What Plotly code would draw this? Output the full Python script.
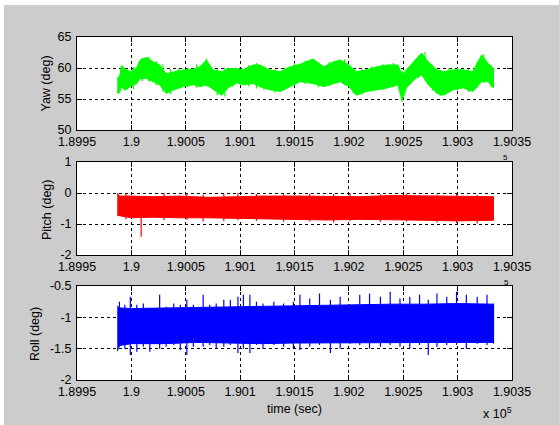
import plotly.graph_objects as go

W, H = 559, 425

# ---------------- data (time in seconds) ----------------
x_tickvals = [189950, 190000, 190050, 190100, 190150, 190200, 190250, 190300, 190350]
x_ticktext = ["1.8995", "1.9", "1.9005", "1.901", "1.9015", "1.902", "1.9025", "1.903", "1.9035"]

yaw_ticks = [50, 55, 60, 65]
pitch_ticks = [-2, -1, 0, 1]
roll_ticks = [-2, -1.5, -1, -0.5]
roll_ticktext = ["-2", "-1.5", "-1", "-0.5"]

# Yaw: upper / lower envelope of the dense signal
yaw_t = [189987, 189989, 189991, 189994, 189999, 190005, 190008, 190014, 190020, 190026,
         190032, 190039, 190048, 190057, 190063, 190069, 190075, 190083, 190089, 190097,
         190103, 190112, 190118, 190127, 190137, 190146, 190155, 190167, 190177, 190186,
         190192, 190200, 190207, 190216, 190226, 190236, 190245, 190249, 190253, 190261,
         190267, 190273, 190281, 190287, 190296, 190305, 190314, 190322, 190328, 190333]
yaw_hi = [58.5, 58.5, 60.4, 59.9, 59.4, 60.1, 61.3, 61.7, 61.0, 60.5,
          59.1, 59.4, 59.7, 59.8, 60.2, 61.3, 59.7, 59.4, 59.9, 59.9,
          59.7, 60.5, 60.5, 59.7, 59.4, 60.2, 60.6, 61.45, 60.2, 61.0,
          61.3, 60.5, 59.4, 59.7, 60.2, 60.5, 60.5, 59.0, 59.7, 61.3,
          62.4, 61.0, 59.7, 59.4, 59.7, 59.7, 59.4, 62.1, 60.75, 59.9]
yaw_lo = [55.9, 56.0, 57.0, 56.4, 57.0, 57.5, 58.3, 58.3, 57.8, 57.3,
          55.9, 56.5, 57.0, 57.3, 57.0, 57.3, 56.5, 55.6, 56.8, 57.6,
          57.3, 57.5, 57.0, 56.5, 56.2, 57.0, 57.8, 57.5, 57.0, 57.5,
          57.8, 57.0, 55.6, 56.2, 56.5, 56.8, 57.3, 54.7, 56.8, 58.3,
          58.9, 57.3, 55.9, 55.6, 56.5, 56.8, 56.2, 57.8, 57.8, 56.8]
# Yaw: individual extreme samples (ragged edge)
yaw_spk_t = [190002, 190010, 190016, 190023, 190029, 190036, 190043, 190052, 190060, 190069,
             190079, 190086, 190093, 190108, 190115, 190122, 190132, 190141, 190150, 190160,
             190172, 190182, 190196, 190204, 190212, 190221, 190231, 190241, 190249, 190257,
             190264, 190270, 190277, 190284, 190292, 190300, 190310, 190318, 190324, 190331]
yaw_spk_hi = [60.2, 61.6, 61.8, 61.1, 60.6, 59.8, 59.9, 60.0, 60.6, 61.5,
              59.8, 60.1, 60.0, 60.5, 60.8, 60.2, 59.8, 60.1, 60.8, 61.2,
              60.8, 61.0, 61.4, 60.0, 59.8, 60.3, 60.6, 60.8, 59.5, 60.5,
              62.0, 62.6, 60.4, 59.7, 60.0, 60.0, 59.8, 61.0, 62.2, 60.4]
yaw_spk_lo = [56.6, 57.9, 57.8, 57.2, 56.2, 55.8, 56.6, 56.9, 56.8, 57.0,
              55.6, 55.4, 57.0, 57.0, 56.7, 56.4, 56.0, 56.5, 57.2, 57.4,
              56.9, 57.1, 57.2, 55.9, 55.7, 56.2, 56.4, 56.9, 54.6, 57.4,
              58.4, 58.5, 56.4, 55.5, 56.2, 56.4, 56.1, 56.8, 57.6, 56.9]

# Pitch: dense core band + individual extreme samples
pitch_t = [189987, 189989, 190000, 190020, 190045, 190070, 190098, 190120, 190155, 190180,
           190210, 190240, 190270, 190300, 190333]
pitch_hi = [0.0, -0.1, -0.1, -0.12, -0.1, -0.14, -0.12, -0.1, -0.1, -0.1,
            -0.12, -0.08, -0.1, -0.12, -0.12]
pitch_lo = [-0.72, -0.75, -0.8, -0.78, -0.8, -0.8, -0.82, -0.82, -0.85, -0.87,
            -0.85, -0.87, -0.88, -0.9, -0.88]
pitch_spk_t = [189995, 190009, 190030, 190051, 190066, 190085, 190098, 190115, 190140,
               190164, 190186, 190201, 190229, 190253, 190281, 190299, 190318]
pitch_spk_hi = [-0.02, -0.3, 0.0, -0.02, -0.05, -0.03, 0.0, -0.03, -0.04,
                -0.02, -0.03, 0.0, -0.04, -0.02, -0.05, -0.03, -0.06]
pitch_spk_lo = [-0.85, -1.41, -0.88, -0.86, -0.92, -0.9, -0.88, -0.9, -0.93,
                -0.92, -0.95, -0.9, -0.93, -0.92, -0.95, -0.97, -0.98]

# Roll: dense core band + individual extreme samples
roll_t = [189987, 189989, 190000, 190030, 190060, 190090, 190120, 190150, 190180, 190210,
          190240, 190270, 190300, 190333]
roll_hi = [-0.82, -0.85, -0.86, -0.85, -0.85, -0.84, -0.83, -0.82, -0.8, -0.8,
           -0.79, -0.79, -0.78, -0.79]
roll_lo = [-1.54, -1.45, -1.42, -1.42, -1.4, -1.41, -1.42, -1.41, -1.4, -1.4,
           -1.4, -1.4, -1.4, -1.4]
roll_spk_t = [189989, 189994, 189999, 190005, 190011, 190017, 190026, 190032, 190039, 190045,
              190051, 190057, 190066, 190072, 190078, 190085, 190091, 190098, 190103, 190109,
              190115, 190121, 190131, 190140, 190149, 190155, 190164, 190173, 190183, 190192,
              190201, 190210, 190219, 190229, 190238, 190247, 190256, 190265, 190273, 190281,
              190290, 190299, 190308, 190318, 190327, 190333]
roll_spk_hi = [-0.75, -0.80, -0.67, -0.80, -0.78, -0.86, -0.64, -0.83, -0.78, -0.80,
               -0.72, -0.80, -0.64, -0.80, -0.78, -0.72, -0.72, -0.67, -0.64, -0.64,
               -0.75, -0.78, -0.75, -0.78, -0.75, -0.64, -0.70, -0.62, -0.72, -0.67,
               -0.80, -0.64, -0.62, -0.67, -0.59, -0.70, -0.67, -0.64, -0.72, -0.62,
               -0.67, -0.59, -0.64, -0.67, -0.64, -0.78]
roll_spk_lo = [-1.47, -1.50, -1.60, -1.55, -1.47, -1.55, -1.50, -1.47, -1.44, -1.52,
               -1.60, -1.47, -1.47, -1.44, -1.50, -1.47, -1.44, -1.57, -1.50, -1.57,
               -1.44, -1.50, -1.44, -1.47, -1.50, -1.52, -1.47, -1.44, -1.57, -1.50,
               -1.42, -1.44, -1.50, -1.47, -1.44, -1.47, -1.50, -1.44, -1.60, -1.47,
               -1.44, -1.44, -1.50, -1.42, -1.44, -1.42]

GREEN, RED, BLUE = "#00ff00", "#ff0000", "#0000ff"
FONT = "Liberation Sans, Arial, sans-serif"
FS = 12.5


def band(t, hi, lo, color, xa, ya):
    return go.Scatter(x=list(t) + list(t)[::-1], y=list(hi) + list(lo)[::-1],
                      fill="toself", fillcolor=color, mode="lines",
                      line=dict(color=color, width=1), xaxis=xa, yaxis=ya,
                      hoverinfo="skip", showlegend=False)


def spikes(t, hi, lo, color, xa, ya):
    xs, ys = [], []
    for a, b, c in zip(t, hi, lo):
        xs += [a, a, None]
        ys += [c, b, None]
    return go.Scatter(x=xs, y=ys, mode="lines", line=dict(color=color, width=1.2),
                      xaxis=xa, yaxis=ya, hoverinfo="skip", showlegend=False)


fig = go.Figure()
fig.add_trace(band(yaw_t, yaw_hi, yaw_lo, GREEN, "x", "y"))
fig.add_trace(spikes(yaw_spk_t, yaw_spk_hi, yaw_spk_lo, GREEN, "x", "y"))
fig.add_trace(band(pitch_t, pitch_hi, pitch_lo, RED, "x2", "y2"))
fig.add_trace(spikes(pitch_spk_t, pitch_spk_hi, pitch_spk_lo, RED, "x2", "y2"))
fig.add_trace(band(roll_t, roll_hi, roll_lo, BLUE, "x3", "y3"))
fig.add_trace(spikes(roll_spk_t, roll_spk_hi, roll_spk_lo, BLUE, "x3", "y3"))

xdom = [77 / W, 512 / W]
boxes = {"": (37, 130), "2": (162, 255), "3": (286, 380)}

common = dict(showline=True, linecolor="black", linewidth=1, mirror="ticks",
              ticks="inside", ticklen=5, tickcolor="black", tickwidth=1,
              showgrid=True, gridcolor="black", gridwidth=1, griddash="3px,3px",
              zeroline=False, automargin=False,
              tickfont=dict(family=FONT, size=FS, color="black"))

yinfo = {"": ([50, 65], yaw_ticks, [str(v) for v in yaw_ticks]),
         "2": ([-2, 1], pitch_ticks, [str(v) for v in pitch_ticks]),
         "3": ([-2, -0.5], roll_ticks, roll_ticktext)}

layout = {}
for k, (top, bot) in boxes.items():
    rng, tv, tt = yinfo[k]
    layout["xaxis" + k] = dict(common, domain=xdom, range=[189950, 190350],
                               tickvals=x_tickvals, ticktext=x_ticktext,
                               anchor="y" + k)
    layout["yaxis" + k] = dict(common, domain=[1 - bot / H, 1 - top / H], range=rng,
                               tickvals=tv, ticktext=tt, anchor="x" + k,
                               ticklabelstandoff=2)

fig.update_layout(**layout)


def ann(text, x, y, size=FS, angle=0, xanchor="center", yanchor="middle"):
    fig.add_annotation(text=text, x=x / W, y=1 - y / H, xref="paper", yref="paper",
                       showarrow=False, textangle=angle, xanchor=xanchor, yanchor=yanchor,
                       font=dict(family=FONT, size=size, color="black"))


ann("Yaw (deg)", 45, 83.5, angle=-90)
ann("Pitch (deg)", 47, 210, angle=-90)
ann("Roll (deg)", 35, 334, angle=-90)
ann("time (sec)", 294, 409)
ann("x 10<sup>5</sup>", 481, 413, xanchor="left")
ann("5", 505, 157, size=8)
ann("5", 506, 282, size=8)

fig.update_layout(
    width=W, height=H, margin=dict(l=0, r=0, t=0, b=0, autoexpand=False),
    paper_bgcolor="#cccccc", plot_bgcolor="white", showlegend=False,
    shapes=[
        dict(type="rect", xref="paper", yref="paper", x0=0, x1=4 / W, y0=0, y1=1,
             fillcolor="white", line=dict(width=0), layer="above"),
        dict(type="rect", xref="paper", yref="paper", x0=0, x1=1, y0=1 - 5 / H, y1=1,
             fillcolor="white", line=dict(width=0), layer="above"),
    ],
)

fig.write_html("out.html", config={"displayModeBar": False},
               post_script="document.body.style.margin='0';document.body.style.overflow='hidden';")
